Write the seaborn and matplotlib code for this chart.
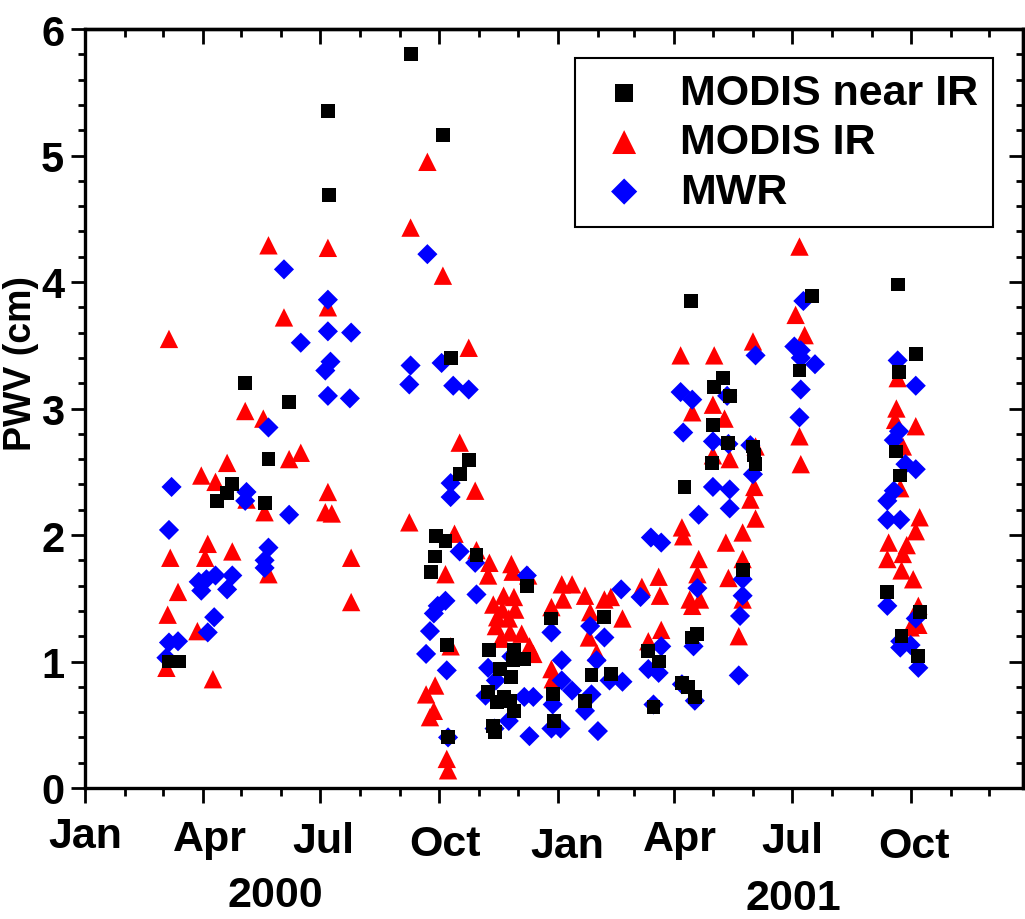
import matplotlib
matplotlib.use("Agg")
import matplotlib.pyplot as plt
import matplotlib.dates as mdates
from matplotlib.ticker import MultipleLocator
from matplotlib.transforms import ScaledTranslation
import seaborn as sns
import pandas as pd

# ---------------- data ----------------
near_ir_dates = [
    "2000-03-06", "2000-03-14", "2000-04-12", "2000-04-20", "2000-04-24", "2000-05-04",
    "2000-05-19", "2000-05-22", "2000-06-07", "2000-07-07", "2000-07-08", "2000-09-09",
    "2000-09-25", "2000-09-28", "2000-09-29", "2000-10-04", "2000-10-06", "2000-10-07",
    "2000-10-08", "2000-10-10", "2000-10-17", "2000-10-24", "2000-10-30", "2000-11-08",
    "2000-11-09", "2000-11-12", "2000-11-13", "2000-11-15", "2000-11-17", "2000-11-20",
    "2000-11-25", "2000-11-26", "2000-11-27", "2000-11-28", "2000-11-28", "2000-12-06",
    "2000-12-08", "2000-12-27", "2000-12-28", "2000-12-29", "2001-01-22", "2001-01-27",
    "2001-02-06", "2001-02-11", "2001-03-12", "2001-03-16", "2001-03-20", "2001-04-07",
    "2001-04-09", "2001-04-12", "2001-04-14", "2001-04-15", "2001-04-17", "2001-04-19",
    "2001-04-30", "2001-05-01", "2001-05-02", "2001-05-09", "2001-05-13", "2001-05-14",
    "2001-05-24", "2001-06-01", "2001-06-02", "2001-06-03", "2001-07-07", "2001-07-17",
    "2001-09-13", "2001-09-20", "2001-09-21", "2001-09-22", "2001-09-23", "2001-09-24",
    "2001-10-05", "2001-10-07", "2001-10-08",
]
near_ir_pwv = [
    1.00, 1.00, 2.27, 2.33, 2.40, 3.20,
    2.25, 2.60, 3.05, 5.35, 4.69, 5.80,
    1.71, 1.83, 1.99, 5.16, 1.95, 1.13,
    0.40, 3.40, 2.48, 2.59, 1.84, 0.76,
    1.09, 0.49, 0.44, 0.68, 0.94, 0.72,
    0.69, 0.88, 1.01, 1.09, 0.61, 1.02,
    1.60, 1.34, 0.74, 0.53, 0.69, 0.89,
    1.35, 0.90, 1.08, 0.64, 1.00, 0.83,
    2.38, 0.80, 3.85, 1.19, 0.72, 1.22,
    2.57, 2.87, 3.17, 3.24, 2.73, 3.10,
    1.72, 2.70, 2.63, 2.56, 3.30, 3.89,
    1.55, 2.66, 3.98, 3.29, 2.47, 1.20,
    3.43, 1.04, 1.39,
]

ir_dates = [
    "2000-03-04", "2000-03-05", "2000-03-06", "2000-03-07", "2000-03-13", "2000-03-28",
    "2000-03-31", "2000-04-03", "2000-04-05", "2000-04-09", "2000-04-11", "2000-04-20",
    "2000-04-24", "2000-05-04", "2000-05-05", "2000-05-18", "2000-05-19", "2000-05-22",
    "2000-05-22", "2000-06-03", "2000-06-07", "2000-06-16", "2000-07-05", "2000-07-07",
    "2000-07-07", "2000-07-07", "2000-07-10", "2000-07-25", "2000-07-25", "2000-09-08",
    "2000-09-09", "2000-09-21", "2000-09-22", "2000-09-24", "2000-09-27", "2000-09-28",
    "2000-10-04", "2000-10-06", "2000-10-07", "2000-10-08", "2000-10-10", "2000-10-13",
    "2000-10-17", "2000-10-24", "2000-10-29", "2000-10-30", "2000-11-08", "2000-11-09",
    "2000-11-12", "2000-11-14", "2000-11-15", "2000-11-18", "2000-11-19", "2000-11-20",
    "2000-11-24", "2000-11-25", "2000-11-26", "2000-11-27", "2000-11-28", "2000-11-29",
    "2000-12-04", "2000-12-09", "2000-12-10", "2000-12-13", "2000-12-27", "2000-12-27",
    "2000-12-28", "2001-01-04", "2001-01-05", "2001-01-12", "2001-01-22", "2001-01-25",
    "2001-01-26", "2001-01-31", "2001-02-06", "2001-02-11", "2001-02-20", "2001-03-07",
    "2001-03-12", "2001-03-20", "2001-03-21", "2001-03-22", "2001-04-06", "2001-04-07",
    "2001-04-08", "2001-04-13", "2001-04-15", "2001-04-15", "2001-04-19", "2001-04-20",
    "2001-04-21", "2001-05-01", "2001-05-01", "2001-05-02", "2001-05-10", "2001-05-11",
    "2001-05-13", "2001-05-14", "2001-05-21", "2001-05-24", "2001-05-24", "2001-05-24",
    "2001-05-30", "2001-06-01", "2001-06-02", "2001-06-03", "2001-06-03", "2001-07-04",
    "2001-07-07", "2001-07-07", "2001-07-08", "2001-07-11", "2001-09-13", "2001-09-14",
    "2001-09-19", "2001-09-20", "2001-09-21", "2001-09-23", "2001-09-24", "2001-09-25",
    "2001-09-25", "2001-09-28", "2001-10-01", "2001-10-03", "2001-10-05", "2001-10-05",
    "2001-10-07", "2001-10-07", "2001-10-08",
]
ir_pwv = [
    0.95, 1.37, 3.55, 1.82, 1.55, 1.24,
    2.47, 1.82, 1.93, 0.86, 2.42, 2.57,
    1.87, 2.98, 2.28, 2.92, 2.18, 1.69,
    4.29, 3.72, 2.60, 2.65, 2.18, 4.27,
    3.80, 2.34, 2.17, 1.82, 1.47, 2.10,
    4.43, 0.74, 4.95, 0.56, 0.61, 0.81,
    4.05, 1.69, 0.23, 0.14, 1.12, 2.01,
    2.73, 3.48, 2.35, 1.88, 1.68, 1.78,
    1.45, 1.28, 1.35, 1.18, 1.41, 1.52,
    1.34, 1.23, 1.77, 1.71, 1.51, 1.41,
    1.22, 1.68, 1.12, 1.06, 1.43, 0.94,
    0.86, 1.61, 1.49, 1.61, 1.52, 1.19,
    1.39, 1.07, 1.49, 1.51, 1.34, 1.59,
    1.16, 1.67, 1.52, 1.25, 3.42, 2.06,
    1.99, 1.49, 2.97, 1.44, 1.69, 1.81,
    1.49, 3.03, 2.63, 3.42, 2.92, 1.94,
    1.66, 2.60, 1.20, 2.02, 1.81, 1.49,
    2.28, 3.53, 2.38, 2.70, 2.13, 3.74,
    4.28, 2.78, 2.56, 3.58, 1.81, 1.94,
    2.91, 3.00, 3.24, 2.37, 1.72, 2.70,
    1.85, 1.92, 1.27, 1.65, 2.86, 2.03,
    1.44, 1.29, 2.14,
]

mwr_dates = [
    "2000-03-04", "2000-03-06", "2000-03-06", "2000-03-08", "2000-03-13", "2000-03-29",
    "2000-03-31", "2000-04-04", "2000-04-05", "2000-04-10", "2000-04-11", "2000-04-20",
    "2000-04-24", "2000-05-04", "2000-05-05", "2000-05-19", "2000-05-19", "2000-05-22",
    "2000-05-22", "2000-06-03", "2000-06-07", "2000-06-16", "2000-07-05", "2000-07-07",
    "2000-07-07", "2000-07-07", "2000-07-09", "2000-07-24", "2000-07-25", "2000-09-08",
    "2000-09-09", "2000-09-21", "2000-09-22", "2000-09-24", "2000-09-27", "2000-09-30",
    "2000-10-03", "2000-10-06", "2000-10-07", "2000-10-08", "2000-10-10", "2000-10-10",
    "2000-10-12", "2000-10-17", "2000-10-24", "2000-10-29", "2000-10-30", "2000-11-06",
    "2000-11-08", "2000-11-13", "2000-11-14", "2000-11-24", "2000-11-26", "2000-12-06",
    "2000-12-08", "2000-12-10", "2000-12-13", "2000-12-27", "2000-12-27", "2000-12-28",
    "2001-01-03", "2001-01-04", "2001-01-04", "2001-01-12", "2001-01-22", "2001-01-26",
    "2001-01-27", "2001-01-31", "2001-02-01", "2001-02-06", "2001-02-10", "2001-02-19",
    "2001-02-20", "2001-03-06", "2001-03-12", "2001-03-14", "2001-03-16", "2001-03-20",
    "2001-03-22", "2001-03-22", "2001-04-06", "2001-04-07", "2001-04-08", "2001-04-15",
    "2001-04-16", "2001-04-17", "2001-04-19", "2001-04-20", "2001-05-01", "2001-05-01",
    "2001-05-12", "2001-05-13", "2001-05-14", "2001-05-14", "2001-05-21", "2001-05-22",
    "2001-05-24", "2001-05-24", "2001-05-30", "2001-06-01", "2001-06-03", "2001-07-03",
    "2001-07-07", "2001-07-08", "2001-07-08", "2001-07-08", "2001-07-10", "2001-07-19",
    "2001-09-13", "2001-09-13", "2001-09-13", "2001-09-18", "2001-09-18", "2001-09-21",
    "2001-09-22", "2001-09-23", "2001-09-23", "2001-09-23", "2001-09-27", "2001-10-01",
    "2001-10-05", "2001-10-05", "2001-10-05", "2001-10-07",
]
mwr_pwv = [
    1.03, 2.04, 1.15, 2.38, 1.16, 1.63,
    1.56, 1.65, 1.23, 1.35, 1.68, 1.57,
    1.68, 2.27, 2.34, 1.80, 1.74, 2.85,
    1.90, 4.10, 2.16, 3.52, 3.30, 3.86,
    3.61, 3.10, 3.37, 3.08, 3.60, 3.19,
    3.34, 1.06, 4.22, 1.24, 1.38, 1.44,
    3.36, 1.48, 0.93, 0.40, 2.41, 2.30,
    3.18, 1.87, 3.15, 1.78, 1.53, 0.73,
    0.95, 0.47, 0.85, 0.53, 1.04, 0.72,
    1.68, 0.41, 0.72, 1.23, 0.47, 0.66,
    0.47, 1.01, 0.85, 0.77, 0.61, 1.28,
    0.74, 1.01, 0.45, 1.19, 0.85, 1.57,
    0.84, 1.51, 0.94, 1.98, 0.66, 0.91,
    1.94, 1.12, 3.13, 0.82, 2.81, 3.07,
    1.12, 0.69, 1.58, 2.16, 2.74, 2.38,
    3.10, 2.72, 2.36, 2.21, 0.89, 1.36,
    1.65, 1.52, 2.71, 2.48, 3.42, 3.49,
    2.93, 3.46, 3.40, 3.15, 3.85, 3.35,
    2.27, 2.12, 1.44, 2.75, 2.35, 3.38,
    2.82, 2.12, 1.16, 1.11, 2.56, 1.13,
    3.18, 2.52, 1.34, 0.95,
]

series_names = ["MODIS near IR", "MODIS IR", "MWR"]
quarter_dates = ["2000-01-01", "2000-04-01", "2000-07-01", "2000-10-01",
                 "2001-01-01", "2001-04-01", "2001-07-01", "2001-10-01"]
month_labels = ["Jan", "Apr", "Jul", "Oct", "Jan", "Apr", "Jul", "Oct"]
year_labels = ["2000", "2001"]
y_label = "PWV (cm)"

# ---------------- style ----------------
sns.set_theme(style="ticks")
plt.rcParams["font.family"] = ["Liberation Sans", "DejaVu Sans"]
plt.rcParams["font.weight"] = "bold"
plt.rcParams["axes.linewidth"] = 2.4
for key in ["text.color", "axes.labelcolor", "axes.edgecolor", "xtick.color", "ytick.color"]:
    plt.rcParams[key] = "black"

fig = plt.figure(figsize=(10.25, 9.2), dpi=100)
ax = fig.add_axes([85 / 1025, 1 - 789 / 920, (1023 - 85) / 1025, (789 - 30) / 920])

frames = []
for name, d, v in zip(series_names, [near_ir_dates, ir_dates, mwr_dates],
                      [near_ir_pwv, ir_pwv, mwr_pwv]):
    frames.append(pd.DataFrame({"date": pd.to_datetime(d), "pwv": v, "series": name}))
df = pd.concat(frames, ignore_index=True)

styles = {
    "MODIS near IR": dict(color="black", marker="s", s=100),
    "MODIS IR": dict(color="red", marker="^", s=175),
    "MWR": dict(color="blue", marker="D", s=105),
}
for z, name in enumerate(["MODIS IR", "MWR", "MODIS near IR"]):
    sub = df[df["series"] == name]
    sns.scatterplot(data=sub, x="date", y="pwv", ax=ax, label=name,
                    linewidth=0, edgecolor="none", zorder=3 + z, legend=False,
                    **styles[name])

# axes ranges / ticks
ax.set_xlim(pd.Timestamp("2000-01-01"), pd.Timestamp("2001-12-27"))
ax.set_ylim(0, 6)
qd = pd.to_datetime(quarter_dates)
ax.set_xticks(qd)
ax.set_xticklabels(month_labels)
ax.xaxis.set_minor_locator(mdates.MonthLocator())
ax.yaxis.set_major_locator(MultipleLocator(1))
ax.yaxis.set_minor_locator(MultipleLocator(0.2))
ax.set_xlabel("")
ax.set_ylabel(y_label, fontsize=27, fontweight="bold", labelpad=0)
ax.yaxis.set_label_coords(-0.049, 0.56)

ax.tick_params(axis="x", which="major", direction="out", length=11, width=2,
               pad=9, labelsize=31, bottom=True)
ax.tick_params(axis="x", which="minor", direction="out", length=6, width=2, bottom=True)
ax.tick_params(axis="y", which="major", direction="out", length=10, width=2,
               pad=5, labelsize=30, left=True)
ax.tick_params(axis="y", which="minor", direction="out", length=5, width=2, left=True)
for lab in ax.get_xticklabels() + ax.get_yticklabels():
    lab.set_fontweight("bold")

# top / right axes with inward ticks
top = ax.secondary_xaxis("top")
top.set_xticks(mdates.date2num(qd))
top.xaxis.set_minor_locator(mdates.MonthLocator())
top.tick_params(which="major", direction="in", length=11, width=2, labeltop=False)
top.tick_params(which="minor", direction="in", length=6, width=2)
right = ax.secondary_yaxis("right")
right.yaxis.set_major_locator(MultipleLocator(1))
right.yaxis.set_minor_locator(MultipleLocator(0.2))
right.tick_params(which="major", direction="in", length=10, width=2, labelright=False)
right.tick_params(which="minor", direction="in", length=5, width=2)
for sp in ax.spines.values():
    sp.set_linewidth(2.4)
    sp.set_color("black")

# slight irregular placement of month labels as in the reference (px)
label_offsets = [(0, 0), (7, 3), (3, 5), (6, 8), (9, 10), (6, 3), (1, 5), (3, 10)]
for lab, (dx, dy) in zip(ax.get_xticklabels(), label_offsets):
    lab.set_transform(lab.get_transform() +
                      ScaledTranslation(dx / 100, -dy / 100, fig.dpi_scale_trans))

# year labels
fig.text(275 / 1025, 1 - 896 / 920, year_labels[0], ha="center", va="center",
         fontsize=31, fontweight="bold")
fig.text(793 / 1025, 1 - 899 / 920, year_labels[1], ha="center", va="center",
         fontsize=31, fontweight="bold")

# legend in series order
handles, labels = ax.get_legend_handles_labels()
hmap = dict(zip(labels, handles))
leg = ax.legend([hmap[n] for n in series_names], series_names,
                loc="upper left", bbox_to_anchor=(0.522, 0.962), borderaxespad=0,
                frameon=True, fancybox=False, edgecolor="black", framealpha=1,
                prop={"weight": "bold", "size": 31}, handlelength=1.6,
                handletextpad=0.5, borderpad=0.35, labelspacing=0.22,
                markerscale=1.3)
leg.get_frame().set_linewidth(1.5)
leg.set_zorder(10)

fig.savefig("out.png", dpi=100)
